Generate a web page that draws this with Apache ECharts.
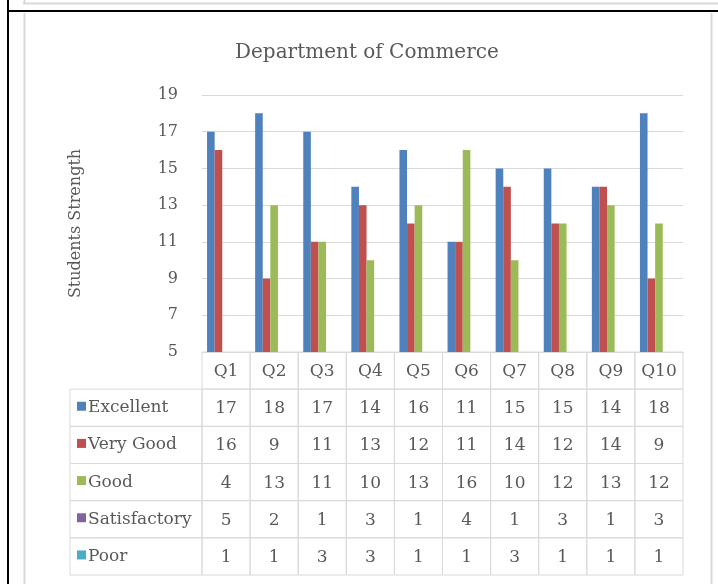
<!DOCTYPE html>
<html>
<head>
<meta charset="utf-8">
<script src="https://cdn.jsdelivr.net/npm/echarts@6/dist/echarts.min.js"></script>
<style>
html, body { margin: 0; padding: 0; background: #fff; }
#main { width: 718px; height: 584px; }
</style>
</head>
<body>
<div id="main"></div>
<script>
var categories = ['Q1', 'Q2', 'Q3', 'Q4', 'Q5', 'Q6', 'Q7', 'Q8', 'Q9', 'Q10'];
var seriesNames = ['Excellent', 'Very Good', 'Good', 'Satisfactory', 'Poor'];
var excellent = [17, 18, 17, 14, 16, 11, 15, 15, 14, 18];
var veryGood = [16, 9, 11, 13, 12, 11, 14, 12, 14, 9];
var good = [4, 13, 11, 10, 13, 16, 10, 12, 13, 12];
var satisfactory = [5, 2, 1, 3, 1, 4, 1, 3, 1, 3];
var poor = [1, 1, 3, 3, 1, 1, 3, 1, 1, 1];
var seriesValues = [excellent, veryGood, good, satisfactory, poor];
var colors = ['#4f81bd', '#c0504d', '#9bbb59', '#8064a2', '#4bacc6'];

var myChart = echarts.init(document.getElementById('main'));

var textColor = '#595959';
var lineColor = '#d9d9d9';
var serif = '"DejaVu Serif", serif';
var labelColWidth = 132;

// table cells: row 0 = header (Q1..), rows 1..5 = series values
var cellData = [];
for (var r = 0; r <= seriesNames.length; r++) {
    for (var c = 0; c < categories.length; c++) {
        cellData.push([c, r]);
    }
}
var rowHeadData = [];
for (var k = 1; k <= seriesNames.length; k++) {
    rowHeadData.push([0, k]);
}

function renderCell(params, api) {
    var c = api.value(0), r = api.value(1);
    var p = api.coord([c, r]);
    var s = api.size([1, 1]);
    var txt = r === 0 ? categories[c] : String(seriesValues[r - 1][c]);
    return {
        type: 'group',
        children: [
            {
                type: 'rect',
                shape: { x: p[0] - s[0] / 2, y: p[1] - s[1] / 2, width: s[0], height: s[1] },
                style: { fill: 'none', stroke: lineColor, lineWidth: 1 }
            },
            {
                type: 'text',
                style: {
                    text: txt, x: p[0], y: p[1] + 1,
                    align: 'center', verticalAlign: 'middle',
                    font: '17px ' + serif, fill: textColor
                }
            }
        ]
    };
}

function renderRowHead(params, api) {
    var r = api.value(1);
    var p = api.coord([0, r]);
    var s = api.size([1, 1]);
    var right = p[0] - s[0] / 2;
    var left = right - labelColWidth;
    return {
        type: 'group',
        children: [
            {
                type: 'rect',
                shape: { x: left, y: p[1] - s[1] / 2, width: labelColWidth, height: s[1] },
                style: { fill: 'none', stroke: lineColor, lineWidth: 1 }
            },
            {
                type: 'rect',
                shape: { x: left + 7, y: p[1] - 6, width: 9, height: 9 },
                style: { fill: colors[r - 1] }
            },
            {
                type: 'text',
                style: {
                    text: seriesNames[r - 1], x: left + 18, y: p[1],
                    align: 'left', verticalAlign: 'middle',
                    font: '17px ' + serif, fill: textColor
                }
            }
        ]
    };
}

var barSeries = seriesNames.map(function (name, i) {
    return {
        name: name,
        type: 'bar',
        xAxisIndex: 0,
        yAxisIndex: 0,
        clip: true,
        barGap: 0,
        barCategoryGap: '21%',
        itemStyle: { color: colors[i] },
        data: seriesValues[i]
    };
});

option = {
    backgroundColor: '#fff',
    animation: false,
    title: {
        text: 'Department of Commerce',
        left: 230,
        top: 38,
        textStyle: { fontFamily: serif, fontSize: 20, fontWeight: 'normal', color: textColor }
    },
    graphic: [
        // frame around the picture
        { type: 'line', shape: { x1: 23, y1: 3.5, x2: 718, y2: 3.5 }, style: { stroke: lineColor, lineWidth: 2 } },
        { type: 'line', shape: { x1: 24.5, y1: 0, x2: 24.5, y2: 4 }, style: { stroke: lineColor, lineWidth: 2 } },
        { type: 'line', shape: { x1: 24.5, y1: 13, x2: 24.5, y2: 584 }, style: { stroke: lineColor, lineWidth: 2 } },
        { type: 'line', shape: { x1: 711.5, y1: 13, x2: 711.5, y2: 584 }, style: { stroke: lineColor, lineWidth: 2 } },
        { type: 'line', shape: { x1: 7, y1: 11, x2: 718, y2: 11 }, style: { stroke: '#000', lineWidth: 2 } },
        { type: 'line', shape: { x1: 8, y1: 0, x2: 8, y2: 584 }, style: { stroke: '#000', lineWidth: 2 } }
    ],
    grid: [
        { left: 202, top: 95, width: 481, height: 257 },
        { left: 202, top: 352, width: 481, height: 223 }
    ],
    xAxis: [
        {
            type: 'category',
            gridIndex: 0,
            data: categories,
            axisLine: { lineStyle: { color: lineColor } },
            axisTick: { show: false },
            axisLabel: { show: false }
        },
        {
            type: 'category',
            gridIndex: 1,
            data: categories,
            show: false
        }
    ],
    yAxis: [
        {
            type: 'value',
            gridIndex: 0,
            min: 5,
            max: 19,
            interval: 2,
            name: 'Students Strength',
            nameLocation: 'middle',
            nameGap: 118,
            nameTextStyle: { fontFamily: serif, fontSize: 16, color: textColor },
            axisLine: { show: false },
            axisTick: { show: false },
            axisLabel: { fontFamily: serif, fontSize: 16, color: textColor, margin: 24, padding: [4, 0, 0, 0] },
            splitLine: { lineStyle: { color: lineColor, width: 1 } }
        },
        {
            type: 'category',
            gridIndex: 1,
            inverse: true,
            data: [''].concat(seriesNames),
            show: false
        }
    ],
    series: barSeries.concat([
        {
            type: 'custom',
            xAxisIndex: 1,
            yAxisIndex: 1,
            silent: true,
            renderItem: renderCell,
            data: cellData
        },
        {
            type: 'custom',
            xAxisIndex: 1,
            yAxisIndex: 1,
            silent: true,
            renderItem: renderRowHead,
            data: rowHeadData
        }
    ])
};

myChart.setOption(option);
</script>
</body>
</html>
